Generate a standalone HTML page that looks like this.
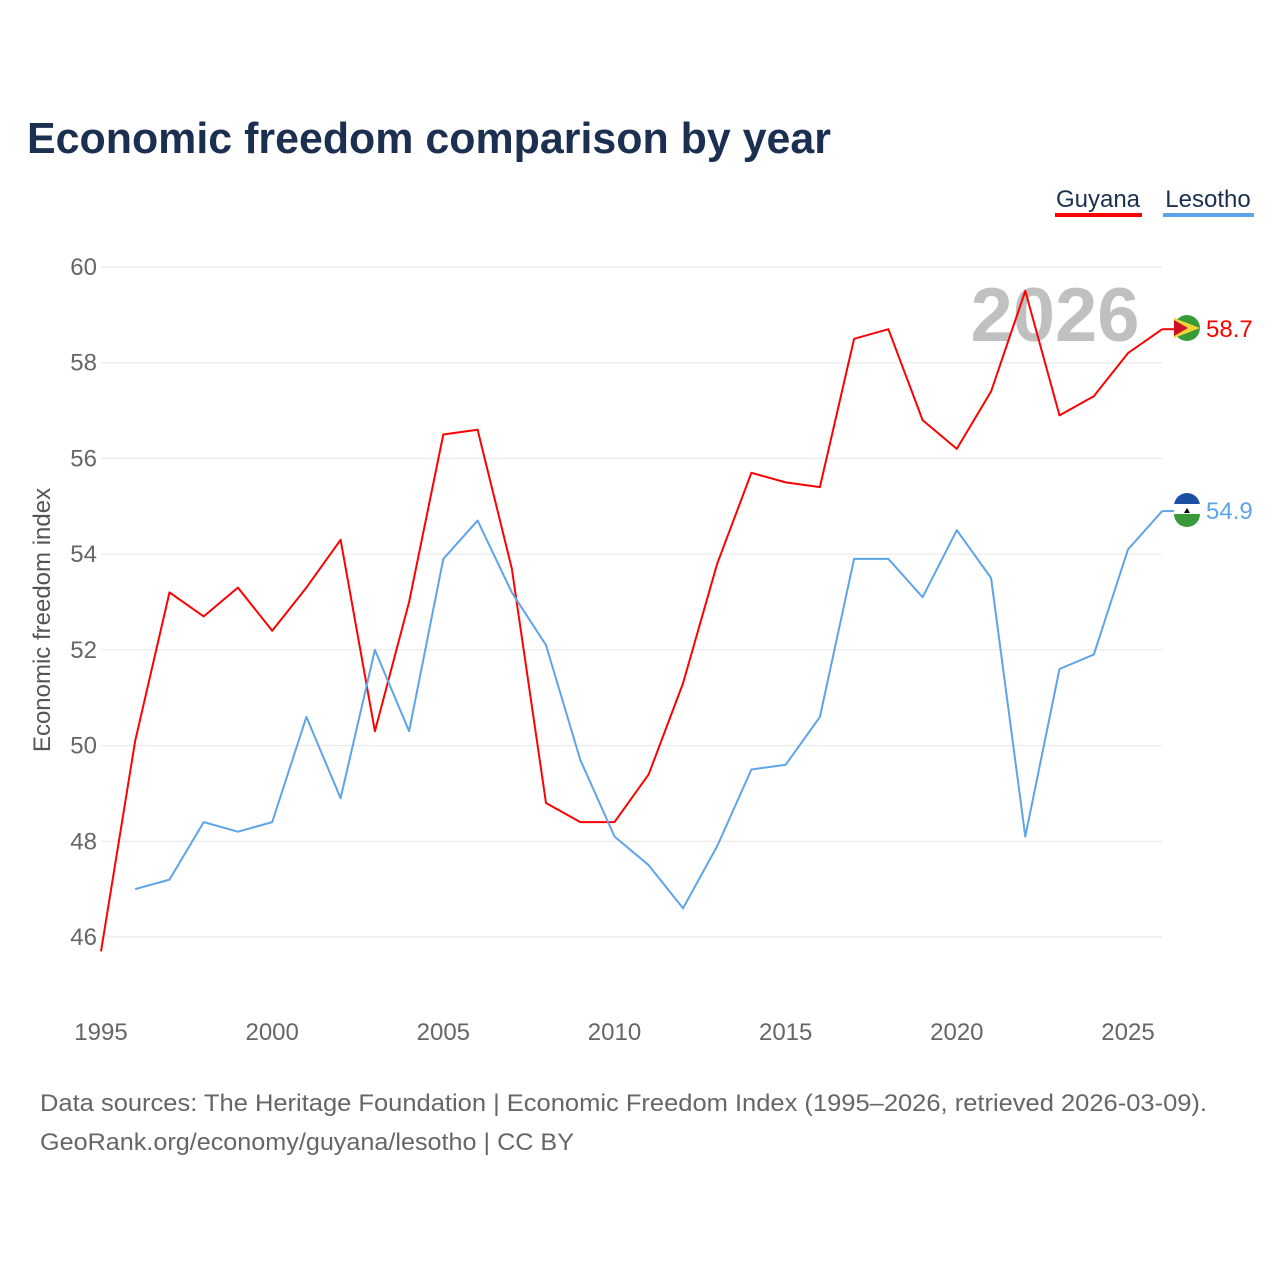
<!DOCTYPE html>
<html><head><meta charset="utf-8">
<style>
body{margin:0;background:#fff;font-family:"Liberation Sans",sans-serif;}
svg text{font-family:"Liberation Sans",sans-serif;}
</style></head>
<body>
<svg id="chart" width="1280" height="1280" viewBox="0 0 1280 1280">
<text x="27" y="153" font-size="44" font-weight="bold" fill="#1b3050" textLength="804" lengthAdjust="spacingAndGlyphs">Economic freedom comparison by year</text>
<g>
<text x="1098" y="207" font-size="24" fill="#1b3050" text-anchor="middle">Guyana</text>
<rect x="1055" y="213" width="87" height="4" fill="#ff0000"/>
<text x="1208" y="207" font-size="24" fill="#1b3050" text-anchor="middle">Lesotho</text>
<rect x="1163" y="213" width="91" height="4" fill="#5ea4e8"/>
</g>
<text x="1055" y="341" font-size="76" font-weight="bold" fill="#c0c0c0" text-anchor="middle">2026</text>
<g id="grid"></g><g id="yticks"></g><g id="xticks"></g>
<text transform="translate(50,620) rotate(-90)" font-size="24" fill="#555" text-anchor="middle">Economic freedom index</text>
<g id="series"></g>
<g>
<circle cx="1187" cy="328" r="13" fill="#3a9a3a"/><polygon points="1174,318 1200,328 1174,338" fill="#f2d23a"/><polygon points="1174,320 1188,328 1174,336" fill="#cc1122"/></g>
<g>
<circle cx="1187" cy="510" r="13" fill="#fff"/><path d="M1174,510 a13,13 0 0 1 26,0 z" fill="#1b4fa3" transform="translate(0,-4)"/><path d="M1174,514 a13,13 0 0 0 26,0 z" fill="#3a9a3a"/><rect x="1174" y="504" width="26" height="10" fill="#fff"/><path d="M1184,513 l3,-5 l3,5z" fill="#000"/></g>
<text x="40" y="1111" font-size="24" fill="#666" textLength="1167" lengthAdjust="spacingAndGlyphs">Data sources: The Heritage Foundation | Economic Freedom Index (1995–2026, retrieved 2026-03-09).</text>
<text x="40" y="1150" font-size="24" fill="#666" textLength="534" lengthAdjust="spacingAndGlyphs">GeoRank.org/economy/guyana/lesotho | CC BY</text>
</svg>
<script>
const years=[1995,1996,1997,1998,1999,2000,2001,2002,2003,2004,2005,2006,2007,2008,2009,2010,2011,2012,2013,2014,2015,2016,2017,2018,2019,2020,2021,2022,2023,2024,2025,2026];
const guyana=[45.7,50.1,53.2,52.7,53.3,52.4,53.3,54.3,50.3,53.0,56.5,56.6,53.7,48.8,48.4,48.4,49.4,51.3,53.8,55.7,55.5,55.4,58.5,58.7,56.8,56.2,57.4,59.5,56.9,57.3,58.2,58.7];
const lesotho=[null,47.0,47.2,48.4,48.2,48.4,50.6,48.9,52.0,50.3,53.9,54.7,53.2,52.1,49.7,48.1,47.5,46.6,47.9,49.5,49.6,50.6,53.9,53.9,53.1,54.5,53.5,48.1,51.6,51.9,54.1,54.9];
const yTicks=[46,48,50,52,54,56,58,60];
const xTicks=[1995,2000,2005,2010,2015,2020,2025];
const NS="http://www.w3.org/2000/svg";
const xs=y=>101+(y-1995)*(1128-101)/30;
const ys=v=>267+(60-v)*(937-267)/14;
function mk(t,a,p){const e=document.createElementNS(NS,t);for(const k in a)e.setAttribute(k,a[k]);p.appendChild(e);return e;}
const grid=document.getElementById('grid'),yt=document.getElementById('yticks'),xt=document.getElementById('xticks'),ser=document.getElementById('series');
yTicks.forEach(v=>{
 const l=mk('line',{x1:101,x2:1162,y1:ys(v),y2:ys(v),stroke:'#e6e6e6','stroke-width':1},grid);
 
 
 const t=mk('text',{x:97,y:ys(v)+8,'font-size':24,fill:'#666','text-anchor':'end'},yt);t.textContent=v;
 
 
});
xTicks.forEach(y=>{
 const t=mk('text',{x:xs(y),y:1040,'font-size':24,fill:'#666','text-anchor':'middle'},xt);t.textContent=y;
 
 
});
function line(vals,color,name){
 let d='';vals.forEach((v,i)=>{if(v==null)return;d+=(d?'L':'M')+xs(years[i]).toFixed(1)+','+ys(v).toFixed(1);});
 const p=mk('path',{d:d,fill:'none',stroke:color,'stroke-width':2,'stroke-linejoin':'round'},ser);
 
 
 const last=vals[vals.length-1];
 const c=mk('line',{x1:xs(2026),x2:xs(2026)+12,y1:ys(last),y2:ys(last),stroke:color,'stroke-width':2},ser);
 const t=mk('text',{x:1206,y:ys(last)+8,'font-size':24,fill:color},ser);t.textContent=last.toFixed(1);
 
 
}
line(guyana,'#ff0000','guyana');
line(lesotho,'#5ea4e8','lesotho');
</script>
</body></html>
